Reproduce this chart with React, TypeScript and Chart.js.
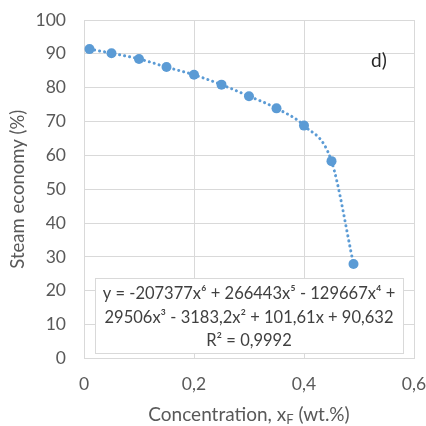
import React, { useEffect, useRef } from 'react';
import { Chart, registerables } from 'chart.js';

Chart.register(...registerables);

// ---- Data ----
const concentration = [0.01, 0.05, 0.1, 0.15, 0.2, 0.25, 0.3, 0.35, 0.4, 0.45, 0.49];
const steamEconomy = [91.4, 90.2, 88.5, 86.1, 83.8, 80.9, 77.5, 73.9, 68.8, 58.3, 27.9];
const xTickValues = [0, 0.2, 0.4, 0.6];
const yTickValues = [0, 10, 20, 30, 40, 50, 60, 70, 80, 90, 100];
const yTitle = 'Steam economy (%)';
const xTitleParts = ['Concentration, x', 'F', ' (wt.%)'];
const equationLines = [
  'y = -207377x⁶ + 266443x⁵ - 129667x⁴ +',
  '29506x³ - 3183,2x² + 101,61x + 90,632',
  'R² = 0,9992',
];
const panelLabel = 'd)';

const BLUE = '#5B9BD5';
const GRID = '#D9D9D9';
const TEXT = '#595959';
const FONT = 'Lato, "Noto Sans", sans-serif';

const fmt = (v: number) => {
  const r = Math.round(v * 10) / 10;
  return r === 0 ? '0' : r.toFixed(1).replace('.', ',');
};

const annotationsPlugin = {
  id: 'customAnnotations',
  afterDraw(chart: any) {
    const { ctx, chartArea } = chart;
    const ca = chartArea;
    ctx.save();

    // Y title
    ctx.fillStyle = TEXT;
    ctx.font = `18.5px ${FONT}`;
    ctx.textAlign = 'center';
    ctx.textBaseline = 'middle';
    ctx.save();
    ctx.translate(18, (ca.top + ca.bottom) / 2);
    ctx.rotate(-Math.PI / 2);
    ctx.fillText(yTitle, 0, 0);
    ctx.restore();

    // X title with subscript
    const mainFont = `19px ${FONT}`;
    const subFont = `13px ${FONT}`;
    ctx.font = mainFont;
    const w0 = ctx.measureText(xTitleParts[0]).width;
    const w2 = ctx.measureText(xTitleParts[2]).width;
    ctx.font = subFont;
    const w1 = ctx.measureText(xTitleParts[1]).width;
    const total = w0 + w1 + w2;
    let x = (ca.left + ca.right) / 2 - total / 2;
    const yBase = 421;
    ctx.textAlign = 'left';
    ctx.textBaseline = 'alphabetic';
    ctx.font = mainFont;
    ctx.fillText(xTitleParts[0], x, yBase);
    x += w0;
    ctx.font = subFont;
    ctx.fillText(xTitleParts[1], x, yBase + 3);
    x += w1;
    ctx.font = mainFont;
    ctx.fillText(xTitleParts[2], x, yBase);

    // Equation box
    const bx = 95, by = 278, bw = 308, bh = 75;
    ctx.fillStyle = '#FFFFFF';
    ctx.fillRect(bx, by, bw, bh);
    ctx.strokeStyle = GRID;
    ctx.lineWidth = 1;
    ctx.strokeRect(bx + 0.5, by + 0.5, bw, bh);
    ctx.fillStyle = '#404040';
    ctx.font = `16.5px ${FONT}`;
    ctx.textAlign = 'center';
    ctx.textBaseline = 'middle';
    equationLines.forEach((line, i) => {
      ctx.fillText(line, bx + bw / 2, by + 16 + i * 23.5);
    });

    // Panel label
    ctx.fillStyle = '#262626';
    ctx.font = `19px ${FONT}`;
    ctx.textAlign = 'left';
    ctx.fillText(panelLabel, 371, 61);

    ctx.restore();
  },
};

export default function App() {
  const ref = useRef<HTMLCanvasElement | null>(null);

  useEffect(() => {
    document.body.style.margin = '0';
    const canvas = ref.current;
    if (!canvas) return;
    const chart = new Chart(canvas, {
      type: 'scatter',
      data: {
        datasets: [
          {
            data: concentration.map((c, i) => ({ x: c, y: steamEconomy[i] })),
            showLine: true,
            borderColor: BLUE,
            backgroundColor: BLUE,
            borderWidth: 3,
            borderDash: [0.1, 5],
            borderCapStyle: 'round',
            cubicInterpolationMode: 'monotone',
            pointRadius: 5,
            pointHoverRadius: 5,
            pointBorderWidth: 0,
          } as any,
        ],
      },
      options: {
        responsive: false,
        animation: false,
        events: [],
        layout: { padding: { top: 20, right: 12, left: 0, bottom: 0 } },
        plugins: { legend: { display: false }, tooltip: { enabled: false } },
        scales: {
          x: {
            type: 'linear',
            min: 0,
            max: 0.6,
            afterBuildTicks: (scale: any) => {
              scale.ticks = xTickValues.map((v) => ({ value: v }));
            },
            afterFit: (scale: any) => {
              scale.height = 67.5;
              scale.paddingLeft = 0;
              scale.paddingRight = 0;
            },
            ticks: {
              color: TEXT,
              font: { family: FONT, size: 17.5 },
              padding: 15,
              callback: (v: any) => fmt(Number(v)),
            },
            grid: { color: GRID, drawTicks: false },
            border: { color: GRID },
          },
          y: {
            min: 0,
            max: 100,
            afterBuildTicks: (scale: any) => {
              scale.ticks = yTickValues.map((v) => ({ value: v }));
            },
            afterFit: (scale: any) => {
              scale.width = 84;
              scale.paddingTop = 0;
              scale.paddingBottom = 0;
            },
            ticks: {
              color: TEXT,
              font: { family: FONT, size: 17.5 },
              padding: 18,
            },
            grid: { color: GRID, drawTicks: false },
            border: { color: GRID },
          },
        },
      },
      plugins: [annotationsPlugin],
    });
    return () => chart.destroy();
  }, []);

  return (
    <div style={{ width: 426, height: 426 }}>
      <canvas ref={ref} width={426} height={426} />
    </div>
  );
}
